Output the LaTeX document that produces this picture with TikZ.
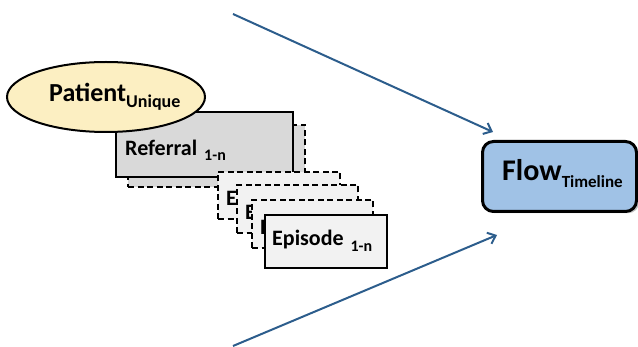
\documentclass[tikz,border=0pt]{standalone}
\usepackage{fontspec}
\setmainfont{Carlito}
\usetikzlibrary{arrows.meta,shapes.geometric}
\definecolor{patfill}{HTML}{FCEFC2}
\definecolor{refgray}{HTML}{D9D9D9}
\definecolor{epgray}{HTML}{F2F2F2}
\definecolor{flowblue}{HTML}{A0C2E6}
\definecolor{arrowblue}{HTML}{2C5D8C}
\newcommand{\mysub}[3]{\raisebox{-#2pt}{\fontsize{#1}{#1}\selectfont #3}}
\begin{document}
\begin{tikzpicture}[x=1pt,y=-1pt,
  boxbase/.style={draw=black, line width=2pt, inner sep=0pt, outer sep=0pt, anchor=north west},
  dashbox/.style={boxbase, dashed, dash pattern=on 6pt off 3.5pt},
  lbl/.style={anchor=base west, inner sep=0pt, font=\bfseries},
  flowarrow/.style={draw=arrowblue, line width=2pt, -{Straight Barb[length=7pt,width=12pt,line width=2pt]}}
]
\useasboundingbox (0,0) rectangle (638,347);
% Referral stack
\node[dashbox, fill=refgray, minimum width=177pt, minimum height=62pt] (refback) at (128,125) {};
\node[boxbase, fill=refgray, minimum width=177pt, minimum height=65pt] (ref) at (116,112) {};
\node[lbl, font=\bfseries\fontsize{22}{22}\selectfont] (reftxt) at (125,156) {Referral\hspace{7pt}\mysub{16}{5}{1-n}};
% Patient
\node[draw=black, line width=2pt, ellipse, fill=patfill, minimum width=198pt, minimum height=70pt, inner sep=0pt] (pat) at (106,97) {};
\node[lbl, font=\bfseries\fontsize{26}{26}\selectfont] (pattxt) at (49,102) {Patient\mysub{18}{6}{Unique}};
% Episode stack
\node[dashbox, fill=epgray, minimum width=122pt, minimum height=47pt] (ep1) at (218,172) {};
\node[lbl, font=\bfseries\fontsize{22}{22}\selectfont] (ep1txt) at (226,206) {E};
\node[dashbox, fill=epgray, minimum width=121pt, minimum height=48pt] (ep2) at (237,185) {};
\node[lbl, font=\bfseries\fontsize{22}{22}\selectfont] (ep2txt) at (245,220) {E};
\node[dashbox, fill=epgray, minimum width=121pt, minimum height=48pt] (ep3) at (252,200) {};
\node[lbl, font=\bfseries\fontsize{22}{22}\selectfont] (ep3txt) at (260,235) {E};
\node[boxbase, fill=epgray, minimum width=122pt, minimum height=53pt] (ep4) at (265,215) {};
\node[lbl, font=\bfseries\fontsize{22}{22}\selectfont] (ep4txt) at (272,246) {Episode\hspace{7pt}\mysub{16}{6}{1-n}};
% Flow
\node[fill=black!25, rounded corners=11pt, minimum width=155pt, minimum height=70pt, inner sep=0pt, anchor=north west] (flowshadow) at (484,143) {};
\node[draw=black, line width=3pt, fill=flowblue, rounded corners=11pt, minimum width=154pt, minimum height=70pt, inner sep=0pt, anchor=north west] (flow) at (481,140) {};
\node[lbl, font=\bfseries\fontsize{30}{30}\selectfont] (flowtxt) at (502,181) {Flow\mysub{17}{7}{Timeline}};
% Arrows
\coordinate (a1s) at (233,14);
\coordinate (a1e) at (493,132);
\coordinate (a2s) at (233,346);
\coordinate (a2e) at (497,235);
\draw[flowarrow] (a1s) -- (a1e);
\draw[flowarrow] (a2s) -- (a2e);
\end{tikzpicture}
\end{document}
